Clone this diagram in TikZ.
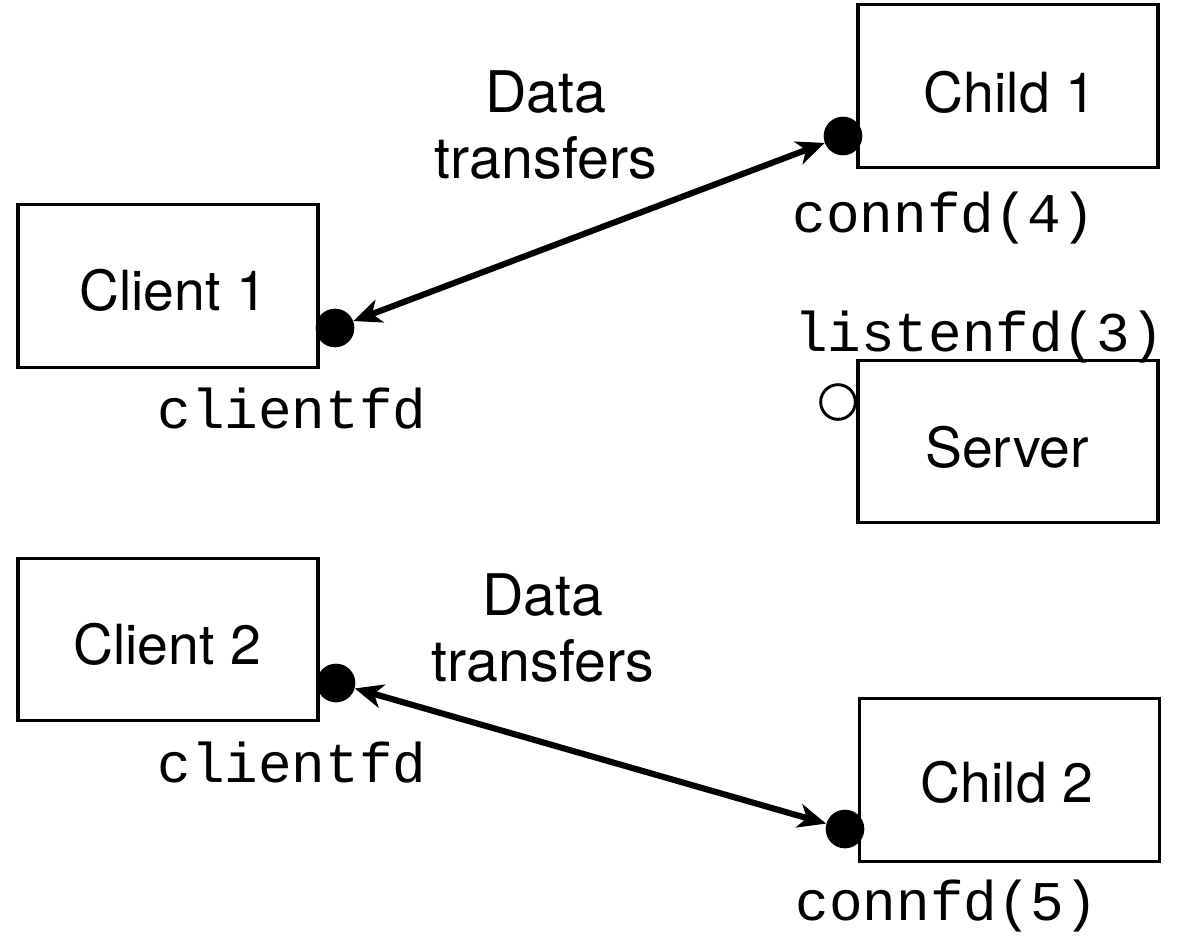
\documentclass[tikz,border=0pt]{standalone}
\usepackage{fontspec}
\setmainfont{TeX Gyre Heros}
\setmonofont{Liberation Mono}
\usetikzlibrary{arrows.meta}
\begin{document}
\begin{tikzpicture}[x=0.75pt,y=-0.75pt,
  box/.style={draw,line width=2.3pt,minimum width=225pt,minimum height=122pt,inner sep=0pt},
  boxtext/.style={font=\fontsize{41.5}{48}\selectfont,inner sep=0pt,anchor=base},
  lbl/.style={font=\fontsize{43}{49.5}\selectfont,align=center,inner sep=0pt},
  code/.style={font=\ttfamily\fontsize{42}{48}\selectfont,inner sep=0pt,anchor=base},
  fd/.style={circle,fill,inner sep=0pt,minimum size=29pt},
  fdopen/.style={circle,draw,line width=2.2pt,inner sep=0pt,minimum size=26pt},
  xfer/.style={arrows={Stealth[length=21pt,width=18pt,inset=6pt]-Stealth[length=21pt,width=18pt,inset=6pt]},line width=4.6pt}]
\useasboundingbox (0,0) rectangle (1180,946);
\node[box] (child1) at (1008,86) {};
\node[box] (client1) at (168,286) {};
\node[box] (server) at (1008,441.5) {};
\node[box] (client2) at (168,639.5) {};
\node[box] (child2) at (1009.5,780) {};
\node[boxtext] (child1t) at (1010,112) {Child 1};
\node[boxtext] (client1t) at (173,310) {Client 1};
\node[boxtext] (servert) at (1007,467) {Server};
\node[boxtext] (client2t) at (167,664) {Client 2};
\node[boxtext] (child2t) at (1007,802) {Child 2};
\node[fd] (ch1fd) at (843,136) {};
\node[fd] (cl1fd) at (335,328) {};
\node[fdopen] (lfd) at (838,402) {};
\node[fd] (cl2fd) at (336,683) {};
\node[fd] (ch2fd) at (845,829) {};
\draw[xfer] (cl1fd) -- (ch1fd);
\draw[xfer] (cl2fd) -- (ch2fd);
\node[lbl] (dt1) at (546,125.5) {Data\\transfers};
\node[lbl] (dt2) at (543,628.5) {Data\\transfers};
\node[code] (c4) at (944,232) {connfd(4)};
\node[code] (cf1) at (292,428) {clientfd};
\node[code] (l3) at (979,351) {listenfd(3)};
\node[code] (cf2) at (292,782) {clientfd};
\node[code] (c5) at (947,920) {connfd(5)};
\end{tikzpicture}
\end{document}
